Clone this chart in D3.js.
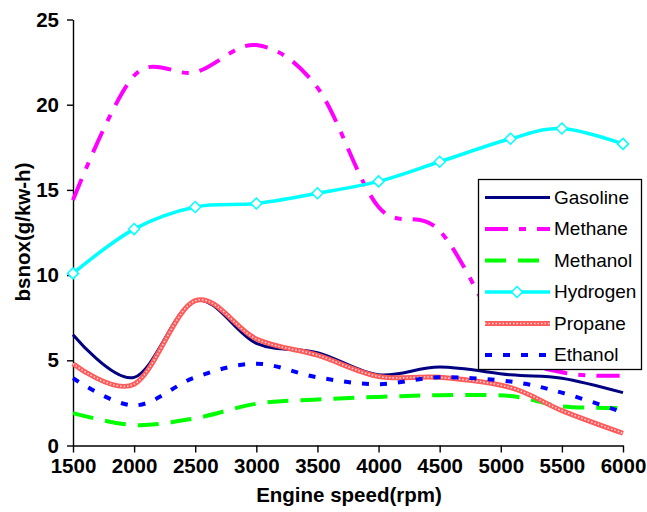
<!DOCTYPE html>
<html>
<head>
<meta charset="utf-8">
<script src="https://cdn.jsdelivr.net/npm/d3@7"></script>
<style>
  html, body { margin: 0; padding: 0; background: #fff; }
  svg { display: block; }
  text { font-family: "Liberation Sans", Arial, sans-serif; }
</style>
</head>
<body>
<svg id="chart" width="647" height="512"></svg>
<script>
// Engine speed (rpm) at which each fuel was measured
const speeds = [1500, 2000, 2500, 3000, 3500, 4000, 4500, 5080, 5500, 6000];

// Brake specific NOx, g/kW-h
const gasoline = [6.5, 4.0, 8.5, 6.0, 5.45, 4.15, 4.6, 4.15, 3.95, 3.1];
const methane  = [14.4, 21.7, 21.9, 23.5, 21.0, 14.0, 12.6, 5.8, 4.3, 4.1];
const methanol = [1.9, 1.2, 1.6, 2.45, 2.7, 2.85, 2.95, 2.9, 2.3, 2.2];
const hydrogen = [10.1, 12.7, 14.0, 14.2, 14.8, 15.5, 16.65, 18.0, 18.6, 17.7];
const propane  = [4.8, 3.6, 8.5, 6.25, 5.3, 4.05, 4.0, 3.4, 2.05, 0.72];
const ethanol  = [3.95, 2.35, 4.0, 4.8, 4.0, 3.6, 4.0, 3.75, 3.1, 1.95];

const seriesNames = ["Gasoline", "Methane", "Methanol", "Hydrogen", "Propane", "Ethanol"];
const seriesValues = [gasoline, methane, methanol, hydrogen, propane, ethanol];

const xTicks = [1500, 2000, 2500, 3000, 3500, 4000, 4500, 5000, 5500, 6000];
const yTicks = [0, 5, 10, 15, 20, 25];

const xTitle = "Engine speed(rpm)";
const yTitle = "bsnox(g/kw-h)";

// Line styles per fuel
const styles = {
  Gasoline: { color: "#000080", width: 3,   dash: null },
  Methane:  { color: "#ff00ff", width: 4,   dash: "23,11,7,11" },
  Methanol: { color: "#00ff00", width: 4,   dash: "21,12" },
  Hydrogen: { color: "#00ffff", width: 3.5, dash: null, marker: true },
  Propane:  { color: "#ff5a5a", width: 5,   dash: null, dotted: true },
  Ethanol:  { color: "#0000ff", width: 4,   dash: "7,11" }
};

const svg = d3.select("#chart");

const x = d3.scaleLinear().domain([1500, 6000]).range([73, 623]);
const y = d3.scaleLinear().domain([0, 25]).range([445.5, 19.5]);

const axisFont = 20.5;
const legendFont = 19;

// Axes
const yAxis = svg.append("g")
  .attr("transform", `translate(${x(1500)},0)`)
  .call(d3.axisLeft(y).tickValues(yTicks).tickFormat(d3.format("d"))
    .tickSize(6).tickSizeOuter(0).tickPadding(8));
const xAxis = svg.append("g")
  .attr("transform", `translate(0,${y(0)})`)
  .call(d3.axisBottom(x).tickValues(xTicks).tickFormat(d3.format("d"))
    .tickSize(7).tickSizeOuter(0).tickPadding(6));

[yAxis, xAxis].forEach(g => {
  g.select(".domain").attr("stroke", "#000").attr("stroke-width", 1.4);
  g.selectAll(".tick line").attr("stroke", "#000").attr("stroke-width", 1.4);
  g.selectAll(".tick text")
    .attr("fill", "#000")
    .style("font-family", "'Liberation Sans', Arial, sans-serif")
    .style("font-size", axisFont + "px")
    .style("font-weight", "bold");
});

// Axis titles
svg.append("text")
  .attr("x", 349).attr("y", 502)
  .attr("text-anchor", "middle")
  .style("font-size", axisFont + "px").style("font-weight", "bold")
  .text(xTitle);

svg.append("text")
  .attr("transform", "translate(30,232) rotate(-90)")
  .attr("text-anchor", "middle")
  .style("font-size", axisFont + "px").style("font-weight", "bold")
  .text(yTitle);

// Smoothed series lines
const line = d3.line()
  .x(d => x(d[0]))
  .y(d => y(d[1]))
  .curve(d3.curveCardinal.tension(0));

const plot = svg.append("g");

seriesNames.forEach((name, i) => {
  const st = styles[name];
  const pts = speeds.map((s, j) => [s, seriesValues[i][j]]);
  plot.append("path")
    .datum(pts)
    .attr("d", line)
    .attr("fill", "none")
    .attr("stroke", st.color)
    .attr("stroke-width", st.width)
    .attr("stroke-dasharray", st.dash)
    .attr("stroke-linejoin", "round");
  if (st.dotted) {
    plot.append("path")
      .datum(pts)
      .attr("d", line)
      .attr("fill", "none")
      .attr("stroke", "#fff")
      .attr("stroke-opacity", 0.75)
      .attr("stroke-width", 1.6)
      .attr("stroke-dasharray", "1.5,2");
  }
  if (st.marker) {
    plot.selectAll(null)
      .data(pts)
      .enter().append("path")
      .attr("transform", d => `translate(${x(d[0])},${y(d[1])})`)
      .attr("d", "M0,-5.5L5.5,0L0,5.5L-5.5,0Z")
      .attr("fill", "#fff")
      .attr("stroke", st.color)
      .attr("stroke-width", 1.5);
  }
});

// Legend
const legend = svg.append("g");
legend.append("rect")
  .attr("x", 478.5).attr("y", 179.5)
  .attr("width", 163).attr("height", 190)
  .attr("fill", "#fff")
  .attr("stroke", "#000")
  .attr("stroke-width", 1.3);

seriesNames.forEach((name, i) => {
  const st = styles[name];
  const ly = 197.5 + i * 31.5;
  legend.append("line")
    .attr("x1", 485).attr("x2", 550)
    .attr("y1", ly).attr("y2", ly)
    .attr("stroke", st.color)
    .attr("stroke-width", st.width)
    .attr("stroke-dasharray", st.dash);
  if (st.dotted) {
    legend.append("line")
      .attr("x1", 485).attr("x2", 550)
      .attr("y1", ly).attr("y2", ly)
      .attr("stroke", "#fff")
      .attr("stroke-opacity", 0.75)
      .attr("stroke-width", 1.6)
      .attr("stroke-dasharray", "1.5,2");
  }
  if (st.marker) {
    legend.append("path")
      .attr("transform", `translate(517,${ly})`)
      .attr("d", "M0,-5.5L5.5,0L0,5.5L-5.5,0Z")
      .attr("fill", "#fff")
      .attr("stroke", st.color)
      .attr("stroke-width", 1.5);
  }
  legend.append("text")
    .attr("x", 554).attr("y", ly)
    .attr("dy", "0.33em")
    .style("font-size", legendFont + "px")
    .text(name);
});
</script>
</body>
</html>
